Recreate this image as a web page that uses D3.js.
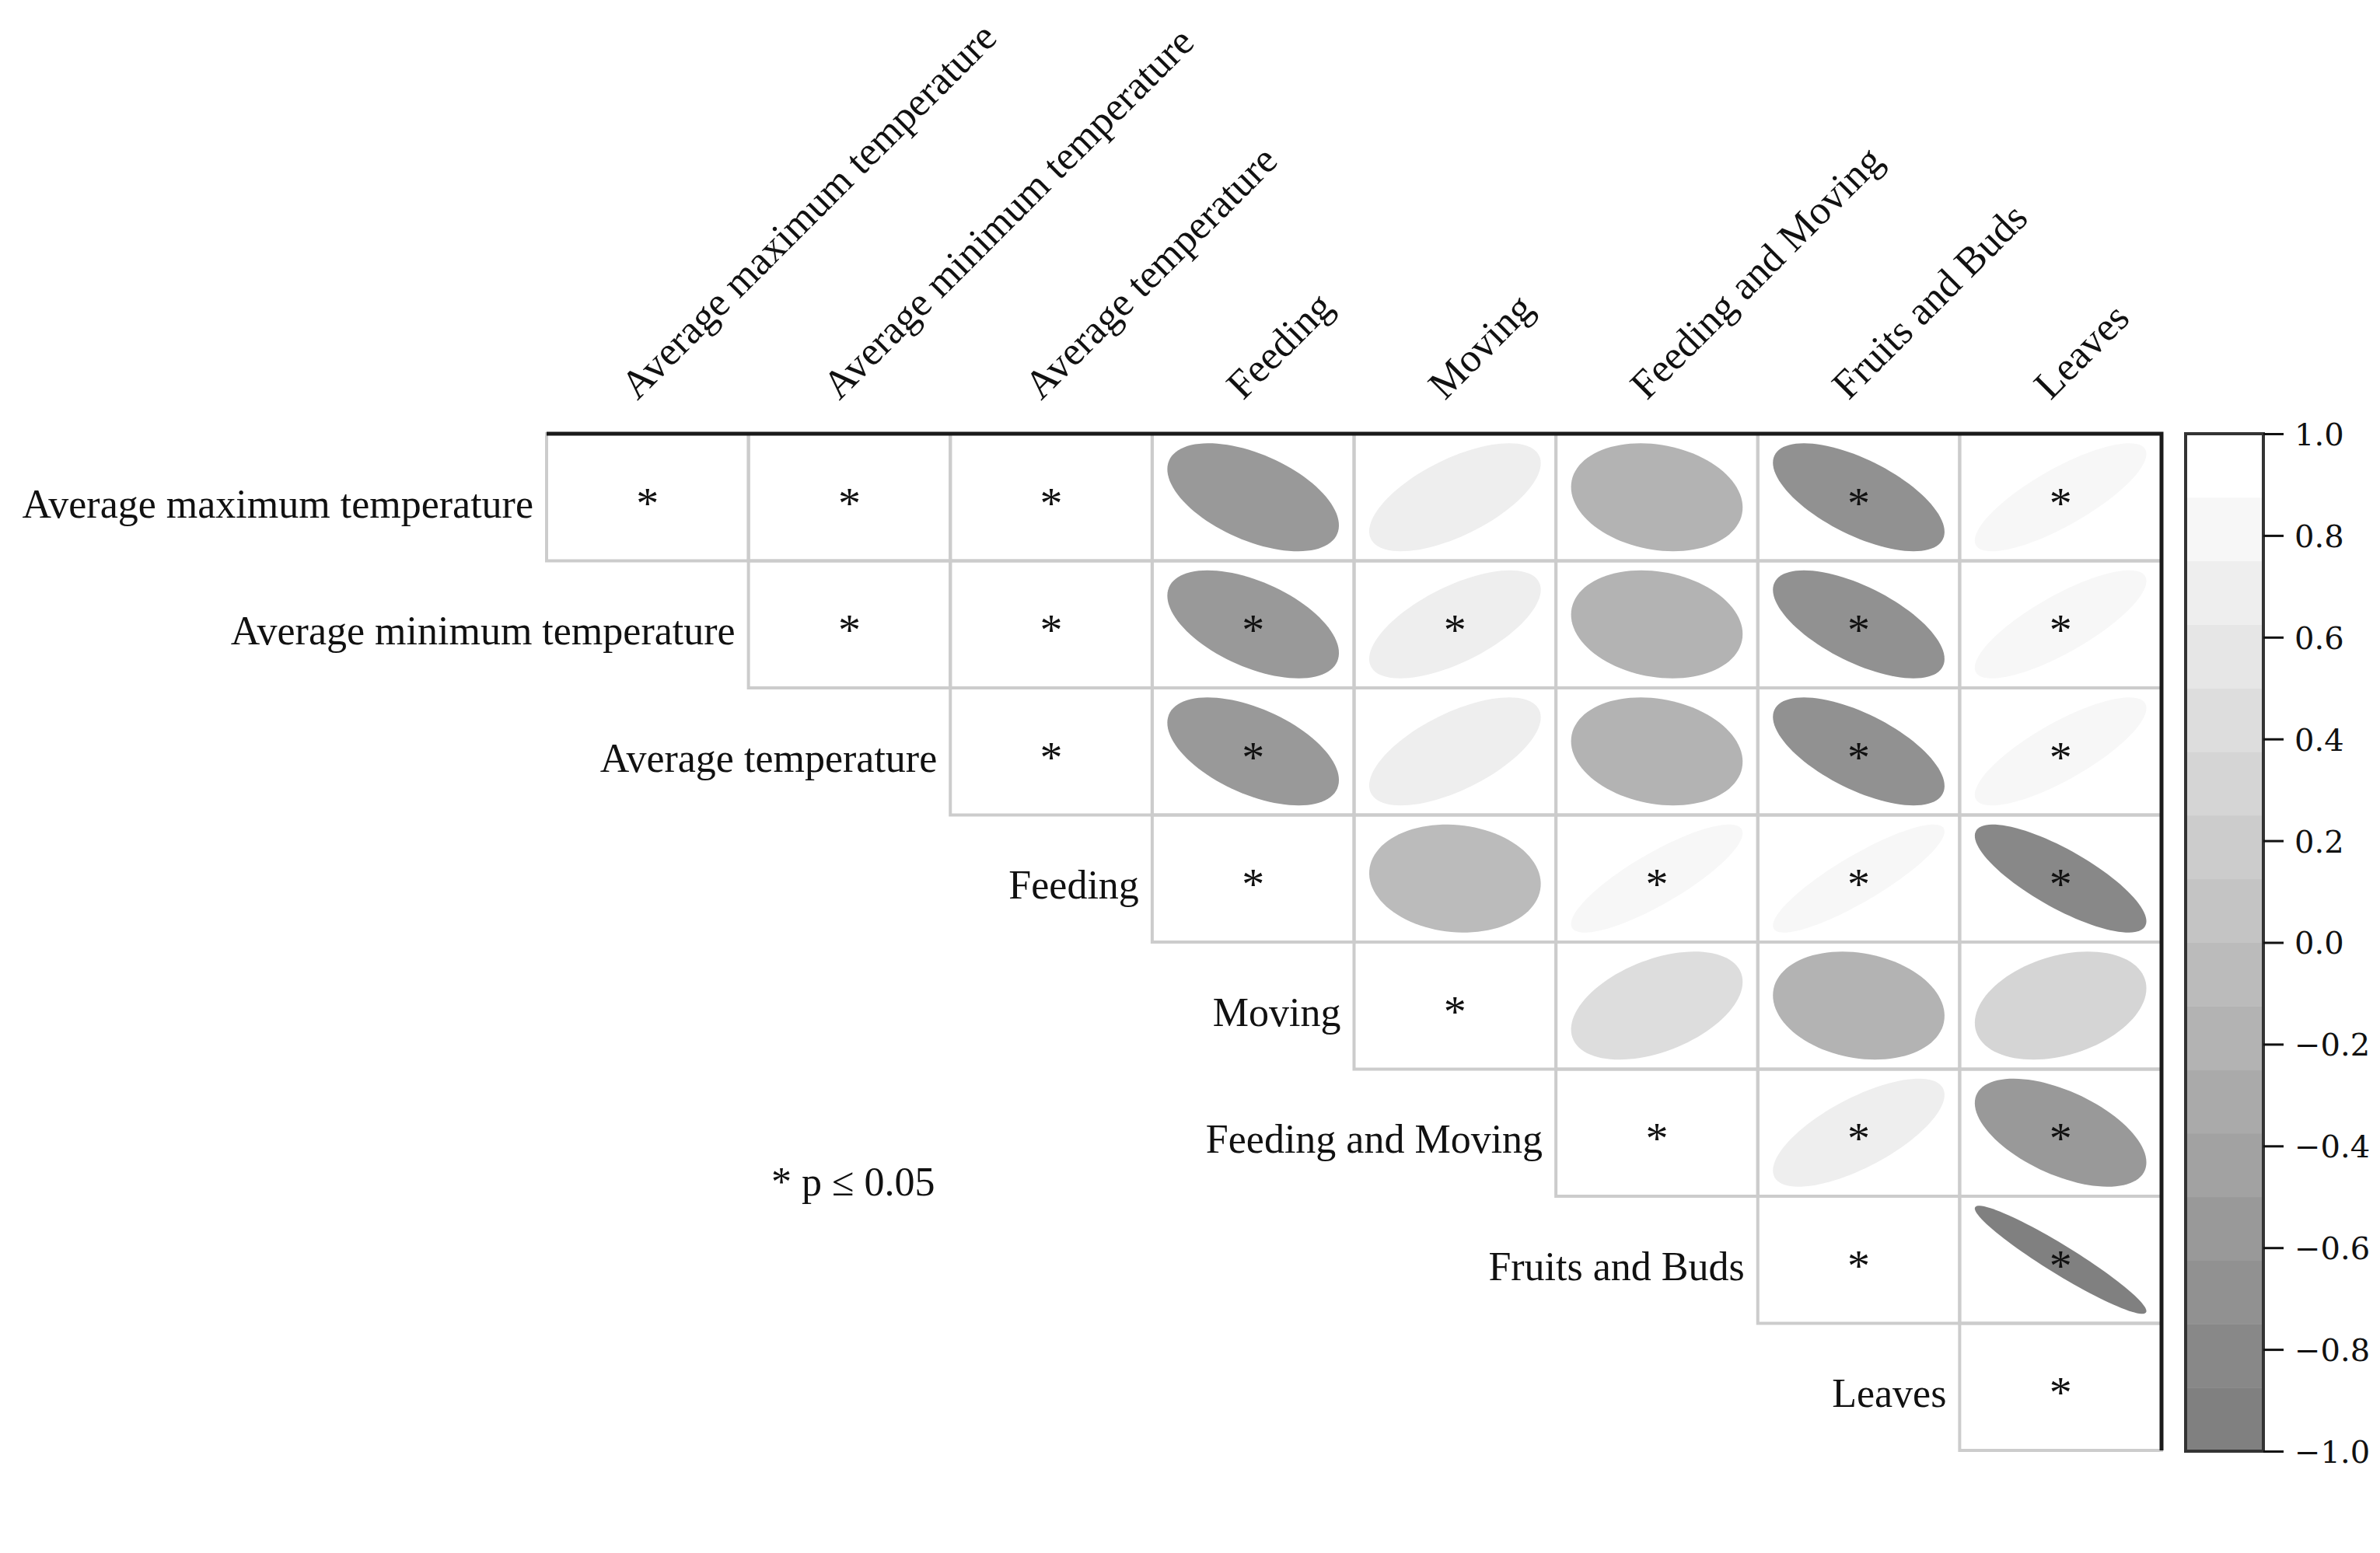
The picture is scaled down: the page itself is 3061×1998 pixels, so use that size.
<!DOCTYPE html>
<html>
<head>
<meta charset="utf-8">
<script src="https://cdn.jsdelivr.net/npm/d3@7"></script>
<style>
  html, body { margin: 0; padding: 0; background: #ffffff; }
  svg { display: block; }
</style>
</head>
<body>
<svg id="chart" width="3061" height="1998"></svg>
<script>
// ---------------- DATA ----------------
const variables = [
  "Average maximum temperature",
  "Average minimum temperature",
  "Average temperature",
  "Feeding",
  "Moving",
  "Feeding and Moving",
  "Fruits and Buds",
  "Leaves"
];

// correlation matrix rows (upper triangle is drawn)
const corAvgMax   = [1.00, 0.98, 0.99, -0.52, 0.63, -0.19, -0.64, 0.80];
const corAvgMin   = [0.98, 1.00, 0.99, -0.53, 0.64, -0.18, -0.64, 0.80];
const corAvgTemp  = [0.99, 0.99, 1.00, -0.53, 0.63, -0.19, -0.64, 0.80];
const corFeeding  = [-0.52, -0.53, -0.53, 1.00, -0.10, 0.84, 0.87, -0.79];
const corMoving   = [0.63, 0.64, 0.63, -0.10, 1.00, 0.44, -0.19, 0.32];
const corFeedMove = [-0.19, -0.18, -0.19, 0.84, 0.44, 1.00, 0.70, -0.55];
const corFruits   = [-0.64, -0.64, -0.64, 0.87, -0.19, 0.70, 1.00, -0.95];
const corLeaves   = [0.80, 0.80, 0.80, -0.79, 0.32, -0.55, -0.95, 1.00];
const corRows = [corAvgMax, corAvgMin, corAvgTemp, corFeeding, corMoving, corFeedMove, corFruits, corLeaves];

// significance (p <= 0.05) flags, 1 = significant
const sigAvgMax   = [1, 1, 1, 0, 0, 0, 1, 1];
const sigAvgMin   = [1, 1, 1, 1, 1, 0, 1, 1];
const sigAvgTemp  = [1, 1, 1, 1, 0, 0, 1, 1];
const sigFeeding  = [0, 1, 1, 1, 0, 1, 1, 1];
const sigMoving   = [0, 1, 0, 0, 1, 0, 0, 0];
const sigFeedMove = [0, 0, 0, 1, 0, 1, 1, 1];
const sigFruits   = [1, 1, 1, 1, 0, 1, 1, 1];
const sigLeaves   = [1, 1, 1, 1, 0, 1, 1, 1];
const sigRows = [sigAvgMax, sigAvgMin, sigAvgTemp, sigFeeding, sigMoving, sigFeedMove, sigFruits, sigLeaves];

const legendTicks = [-1.0, -0.8, -0.6, -0.4, -0.2, 0.0, 0.2, 0.4, 0.6, 0.8, 1.0];
const nColorBands = 16;
const sigNote = "* p \u2264 0.05";

// ---------------- LAYOUT ----------------
const svg = d3.select("#chart");
const serif = "'Liberation Serif', 'Times New Roman', serif";

const gridLeft = 703, gridRight = 2780, gridTop = 558, gridBottom = 1866;
const x = d3.scaleBand().domain(variables).range([gridLeft, gridRight]);
const y = d3.scaleBand().domain(variables).range([gridTop, gridBottom]);
const cw = x.bandwidth(), ch = y.bandwidth();

// 16-step gray palette, gray50 -> white
const palette = d3.range(nColorBands).map(i => d3.interpolateRgb("#808080", "#ffffff")(i / (nColorBands - 1)));
const color = d3.scaleQuantize().domain([-1, 1]).range(palette);

// cells in upper triangle
const cells = [];
variables.forEach((rv, i) => {
  variables.forEach((cv, j) => {
    if (j >= i) cells.push({ row: rv, col: cv, i, j, r: corRows[i][j], sig: sigRows[i][j] });
  });
});

// cell borders
svg.append("g").selectAll("rect").data(cells).join("rect")
  .attr("x", d => x(d.col))
  .attr("y", d => y(d.row))
  .attr("width", cw)
  .attr("height", ch)
  .attr("fill", "none")
  .attr("stroke", "#cccccc")
  .attr("stroke-width", 4);

// ellipses (corrplot style)
const ellScale = 0.85;
function ellipsePath(d) {
  const dAng = Math.acos(Math.max(-1, Math.min(1, d.r)));
  const cx = x(d.col) + cw / 2, cy = y(d.row) + ch / 2;
  const pts = d3.range(0, 100).map(k => {
    const t = (k / 100) * 2 * Math.PI;
    const ex = Math.cos(t + dAng / 2) / 2;
    const ey = Math.cos(t - dAng / 2) / 2;
    return [cx + ex * ellScale * cw, cy - ey * ellScale * ch];
  });
  return d3.line()(pts) + "Z";
}
svg.append("g").selectAll("path").data(cells.filter(d => d.i !== d.j)).join("path")
  .attr("d", ellipsePath)
  .attr("fill", d => color(d.r))
  .attr("stroke", "none");

// significance stars
svg.append("g").selectAll("text").data(cells.filter(d => d.sig)).join("text")
  .attr("x", d => x(d.col) + cw / 2)
  .attr("y", d => y(d.row) + ch / 2 + 27)
  .attr("text-anchor", "middle")
  .attr("font-family", serif)
  .attr("font-size", 58)
  .attr("fill", "#111")
  .text("*");

// frame lines (top and right)
svg.append("path")
  .attr("d", `M${gridLeft},${gridTop}H${gridRight}V${gridBottom}`)
  .attr("fill", "none")
  .attr("stroke", "#1a1a1a")
  .attr("stroke-width", 5);

// row labels
svg.append("g").selectAll("text").data(variables).join("text")
  .attr("x", d => x(d) - 17)
  .attr("y", d => y(d) + ch / 2 + 26)
  .attr("text-anchor", "end")
  .attr("font-family", serif)
  .attr("font-size", 52)
  .attr("fill", "#111")
  .text(d => d);

// column labels (rotated 45 degrees)
svg.append("g").selectAll("text").data(variables).join("text")
  .attr("transform", d => `translate(${x(d) + cw / 2 - 13},${gridTop - 42}) rotate(-45)`)
  .attr("text-anchor", "start")
  .attr("font-family", serif)
  .attr("font-size", 52)
  .attr("fill", "#111")
  .text(d => d);

// significance note
svg.append("text")
  .attr("x", 992)
  .attr("y", 1538)
  .attr("font-family", serif)
  .attr("font-size", 52)
  .attr("fill", "#111")
  .text(sigNote);

// ---------------- COLOR LEGEND ----------------
const cbLeft = 2811, cbRight = 2911;
const cbY = d3.scaleLinear().domain([-1, 1]).range([gridBottom + 1, gridTop]);
const bandStep = 2 / nColorBands;
const bands = d3.range(nColorBands).map(i => ({ lo: -1 + i * bandStep, hi: -1 + (i + 1) * bandStep }));
svg.append("g").selectAll("rect").data(bands).join("rect")
  .attr("x", cbLeft)
  .attr("width", cbRight - cbLeft)
  .attr("y", d => cbY(d.hi))
  .attr("height", d => cbY(d.lo) - cbY(d.hi) + 0.5)
  .attr("fill", d => color((d.lo + d.hi) / 2));

svg.append("rect")
  .attr("x", cbLeft).attr("y", cbY(1))
  .attr("width", cbRight - cbLeft).attr("height", cbY(-1) - cbY(1))
  .attr("fill", "none").attr("stroke", "#333").attr("stroke-width", 4);

const axis = d3.axisRight(cbY).tickValues(legendTicks).tickSize(26).tickPadding(14)
  .tickFormat(d3.format(".1f"));
const ax = svg.append("g").attr("transform", `translate(${cbRight},0)`).call(axis);
ax.select(".domain").remove();
ax.selectAll(".tick line").attr("stroke", "#111").attr("stroke-width", 3);
ax.selectAll(".tick text")
  .attr("font-family", "'DejaVu Serif', serif")
  .attr("font-size", 40)
  .attr("fill", "#111")
  .attr("dy", "0.36em");
</script>
</body>
</html>
